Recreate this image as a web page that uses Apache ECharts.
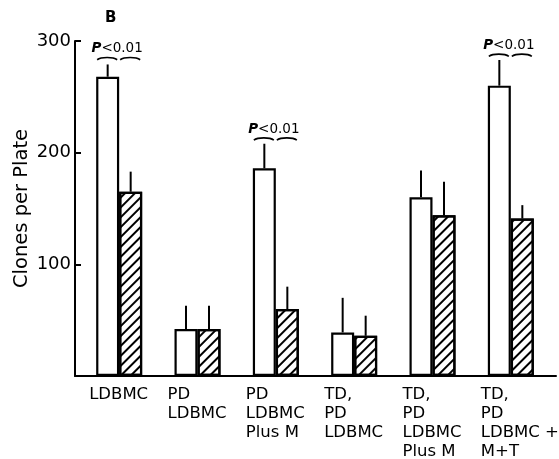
<!DOCTYPE html>
<html>
<head>
<meta charset="utf-8">
<script src="https://cdn.jsdelivr.net/npm/echarts@6/dist/echarts.min.js"></script>
<style>
  html, body { margin: 0; padding: 0; background: #fff; }
  #main { width: 559px; height: 459px; }
</style>
</head>
<body>
<div id="main"></div>
<script>
// data
var categories = ['LDBMC', 'PD\nLDBMC', 'PD\nLDBMC\nPlus M', 'TD,\nPD\nLDBMC', 'TD,\nPD\nLDBMC\nPlus M', 'TD,\nPD\nLDBMC +\nM+T'];
var openMean = [268, 42, 186, 39, 160, 260];
var openUpper = [279, 63, 208, 70, 184, 283];
var hatchMean = [165, 42, 60, 36, 144, 141];
var hatchUpper = [183, 63, 80, 54, 174, 153];
var yTicks = [0, 100, 200, 300];
// significance labels: category index and height of the bracket
var annoIndex = [0, 2, 5];
var annoValue = [285, 213, 288];

var FONT = 'DejaVu Sans';
var BAR_W = 23;

var chart = echarts.init(document.getElementById('main'));

function errData(mean, upper) {
    var out = [];
    for (var i = 0; i < mean.length; i++) {
        out.push([i, mean[i], upper[i]]);
    }
    return out;
}

function errRender(offset) {
    return function (params, api) {
        var b = api.coord([api.value(0), api.value(1)]);
        var t = api.coord([api.value(0), api.value(2)]);
        var x = b[0] + offset;
        return {
            type: 'line',
            shape: { x1: x, y1: b[1], x2: x, y2: t[1] },
            style: { stroke: '#000', lineWidth: 2 }
        };
    };
}

function annoRender(params, api) {
    var p = api.coord([api.value(0), api.value(1)]);
    var cx = p[0], cy = p[1];
    var curve = function (x1, x2) {
        return {
            type: 'bezierCurve',
            shape: { x1: x1, y1: cy + 2, x2: x2, y2: cy + 2, cpx1: x1 + 4, cpy1: cy - 1, cpx2: x2 - 4, cpy2: cy - 1 },
            style: { stroke: '#000', lineWidth: 1.6, fill: null }
        };
    };
    return {
        type: 'group',
        children: [
            {
                type: 'text',
                style: {
                    text: '{p|P}{n|<0.01}',
                    x: cx - 2,
                    y: cy - 9,
                    align: 'center',
                    verticalAlign: 'middle',
                    rich: {
                        p: { fontFamily: FONT, fontSize: 13.5, fontWeight: 'bold', fontStyle: 'italic', fill: '#000' },
                        n: { fontFamily: FONT, fontSize: 13.5, fill: '#000' }
                    }
                }
            },
            curve(cx - 22, cx - 2),
            curve(cx + 1, cx + 21)
        ]
    };
}

var annoData = annoIndex.map(function (idx, i) { return [idx, annoValue[i]]; });

var option = {
    backgroundColor: '#fff',
    animation: false,
    title: {
        text: 'B',
        left: 100,
        top: 6,
        textStyle: { fontFamily: FONT, fontSize: 15, fontWeight: 'bold', color: '#000' }
    },
    grid: [
        { left: 75, right: 3, top: 41, bottom: 83, outerBoundsMode: 'none' },
        { left: 80, right: 9, top: 41, bottom: 83, outerBoundsMode: 'none' }
    ],
    xAxis: [
        {
            gridIndex: 0, type: 'value', min: 0, max: 1,
            axisLine: { show: true, lineStyle: { color: '#000', width: 2 } },
            axisTick: { show: false }, axisLabel: { show: false }, splitLine: { show: false }
        },
        {
            gridIndex: 1, type: 'category', data: categories,
            axisLine: { show: false }, axisTick: { show: false },
            axisLabel: {
                interval: 0,
                margin: 9,
                align: 'center',
                verticalAlign: 'top',
                formatter: function (v) {
                    return v.split('\n').map(function (s) { return '{a|' + s + '}'; }).join('\n');
                },
                rich: {
                    a: { width: 60, align: 'left', fontFamily: FONT, fontSize: 16.5, lineHeight: 19, color: '#000' }
                }
            }
        }
    ],
    yAxis: [
        {
            gridIndex: 0, type: 'value', min: 0, max: 300, interval: 100,
            name: 'Clones per Plate',
            nameLocation: 'middle',
            nameGap: 43,
            nameMoveOverlap: false,
            nameTextStyle: { fontFamily: FONT, fontSize: 19.5, color: '#000' },
            axisLine: { show: true, lineStyle: { color: '#000', width: 2 } },
            axisTick: { show: true, inside: true, length: 6, lineStyle: { color: '#000', width: 2 } },
            axisLabel: {
                margin: 4,
                fontFamily: FONT, fontSize: 18, color: '#000',
                formatter: function (v) { return yTicks.indexOf(v) > 0 ? String(v) : ''; }
            },
            splitLine: { show: false }
        },
        {
            gridIndex: 1, type: 'value', min: 0, max: 300, interval: 100,
            show: false
        }
    ],
    series: [
        {
            type: 'bar', xAxisIndex: 1, yAxisIndex: 1,
            data: openMean, barWidth: BAR_W, barGap: '0%',
            itemStyle: { color: '#fff', borderColor: '#000', borderWidth: 2.2 }
        },
        {
            type: 'bar', xAxisIndex: 1, yAxisIndex: 1,
            data: hatchMean, barWidth: BAR_W, barGap: '0%',
            itemStyle: {
                color: '#fff', borderColor: '#000', borderWidth: 2.2,
                decal: {
                    symbol: 'rect', symbolSize: 1, color: '#000',
                    dashArrayX: [1, 0], dashArrayY: [1.2, 4.5],
                    rotation: -Math.PI / 4
                }
            }
        },
        {
            type: 'custom', xAxisIndex: 1, yAxisIndex: 1,
            data: errData(openMean, openUpper),
            encode: { x: 0, y: [1, 2] },
            renderItem: errRender(-BAR_W / 2), z: 3
        },
        {
            type: 'custom', xAxisIndex: 1, yAxisIndex: 1,
            data: errData(hatchMean, hatchUpper),
            encode: { x: 0, y: [1, 2] },
            renderItem: errRender(BAR_W / 2), z: 3
        },
        {
            type: 'custom', xAxisIndex: 1, yAxisIndex: 1,
            data: annoData,
            encode: { x: 0, y: 1 },
            renderItem: annoRender, z: 4
        }
    ]
};

chart.setOption(option);
</script>
</body>
</html>
